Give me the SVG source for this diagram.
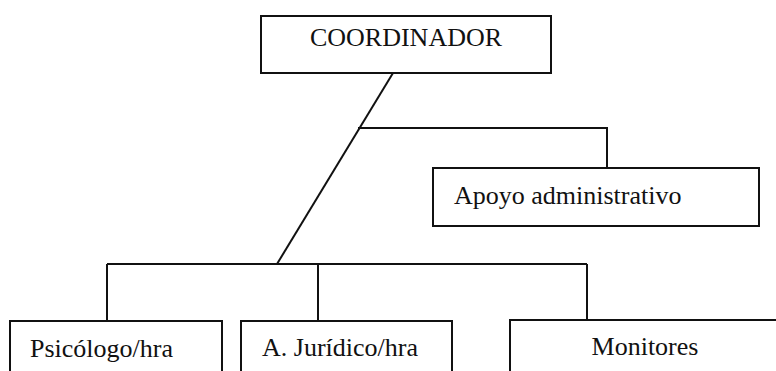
<svg xmlns="http://www.w3.org/2000/svg" width="776" height="371" viewBox="0 0 776 371">
<style>
.box{fill:#fff;stroke:#111;stroke-width:2}
.lbl{font-size:26px;fill:#111}
.con{fill:none;stroke:#111;stroke-width:2}
</style>
<rect width="776" height="371" fill="#fff"/>
<g id="connectors">
<line class="con" x1="393" y1="73" x2="277" y2="264"/>
<polyline class="con" points="358,128 607,128 607,167"/>
<line class="con" x1="107" y1="264" x2="587" y2="264"/>
<line class="con" x1="107" y1="264" x2="107" y2="321"/>
<line class="con" x1="318" y1="264" x2="318" y2="321"/>
<line class="con" x1="587" y1="264" x2="587" y2="321"/>
</g>
<g font-family="'Liberation Serif', 'DejaVu Serif', 'Times New Roman', serif">
<g id="coordinador">
<rect class="box" x="261" y="16" width="290" height="57"/>
<text class="lbl" x="406" y="46" text-anchor="middle">COORDINADOR</text>
</g>
<g id="apoyo">
<rect class="box" x="433" y="168" width="326" height="58"/>
<text class="lbl" x="454" y="204">Apoyo administrativo</text>
</g>
<g id="psicologo">
<rect class="box" x="10" y="321" width="212" height="60"/>
<text class="lbl" x="30" y="357">Psicólogo/hra</text>
</g>
<g id="juridico">
<rect class="box" x="241" y="321" width="211" height="60"/>
<text class="lbl" x="262" y="356">A. Jurídico/hra</text>
</g>
<g id="monitores">
<rect class="box" x="510" y="320" width="280" height="60"/>
<text class="lbl" x="645" y="355" text-anchor="middle">Monitores</text>
</g>
</g>
</svg>
